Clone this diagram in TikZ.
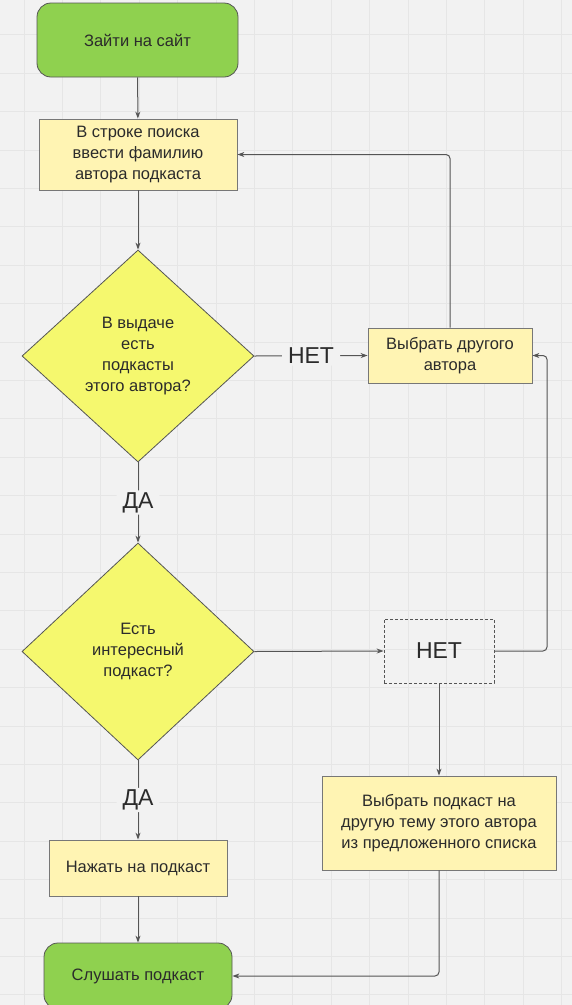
\documentclass[tikz,border=0pt]{standalone}
\usepackage{fontspec}
\setmainfont{Liberation Sans}
\usetikzlibrary{shapes.geometric,arrows.meta}

\definecolor{bgcol}{HTML}{F2F2F2}
\definecolor{gridcol}{HTML}{E6E6E6}
\definecolor{startgreen}{HTML}{8FD14F}
\definecolor{stepyellow}{HTML}{FFF4B3}
\definecolor{askyellow}{HTML}{F5F86E}
\definecolor{linecol}{HTML}{555555}
\definecolor{textcol}{HTML}{2B2B2B}

\begin{document}
\begin{tikzpicture}[x=1pt,y=-1pt,
    every node/.style={text=textcol, font=\fontsize{16.5}{21}\selectfont, align=center},
    terminal/.style={draw=linecol, fill=startgreen, rounded corners=14pt, line width=0.8pt},
    stepbox/.style={draw=linecol!80, fill=stepyellow, line width=0.8pt},
    askbox/.style={draw=linecol, fill=askyellow, diamond, inner sep=0pt, line width=0.8pt},
    ghostbox/.style={draw=linecol, dash pattern=on 3pt off 2pt, line width=0.8pt},
    flow/.style={draw=linecol, line width=1pt, rounded corners=4pt, -{Stealth[length=7pt,width=5pt]}},
    answer/.style={fill=bgcol, inner xsep=6pt, inner ysep=2pt, font=\fontsize{23}{26}\selectfont}]

    % Fix the page size and draw the grid paper
    \useasboundingbox (0,0) rectangle (572,1005);
    \clip (0,0) rectangle (572,1005);
    \fill[bgcol] (0,0) rectangle (572,1005);
    \foreach \gx in {24,62.4,...,572}
        \draw[gridcol, line width=0.8pt] (\gx,0) -- (\gx,1005);
    \foreach \gy in {-3.6,34.8,...,1005}
        \draw[gridcol, line width=0.8pt] (0,\gy) -- (572,\gy);

    % Start: go to the site
    \node[terminal, minimum width=201pt, minimum height=74pt] (start) at (137.5,40) {Зайти на сайт};

    % Type the author name into the search line
    \node[stepbox, minimum width=198pt, minimum height=71pt] (search) at (138,154.5)
        {В строке поиска\\ввести фамилию\\автора подкаста};

    % First question
    \node[askbox, minimum width=232pt, minimum height=212pt] (hasauthor) at (138,356)
        {В выдаче\\есть\\подкасты\\этого автора?};

    % Pick another author
    \node[stepbox, minimum width=164pt, minimum height=55pt] (otherauthor) at (450,355.5)
        {Выбрать другого\\автора};

    % Second question
    \node[askbox, minimum width=232pt, minimum height=217pt] (hasgood) at (138,651.5)
        {Есть\\интересный\\подкаст?};

    % Dashed answer box
    \node[ghostbox, minimum width=110pt, minimum height=64pt, font=\fontsize{23}{26}\selectfont] (nobox) at (439,651) {НЕТ};

    % Pick another podcast of the same author
    \node[stepbox, minimum width=234pt, minimum height=94pt] (othertopic) at (439,823)
        {Выбрать подкаст на\\другую тему этого автора\\из предложенного списка};

    % Click the podcast
    \node[stepbox, minimum width=178pt, minimum height=56pt] (click) at (138,868) {Нажать на подкаст};

    % End: listen to the podcast
    \node[terminal, minimum width=188pt, minimum height=66pt] (listen) at (138,976) {Слушать подкаст};

    % Rail on the right for the way back
    \coordinate (rail) at (547,0);

    % Draw the connectors
    \draw[flow] (start) -- (search);
    \draw[flow] (search) -- (hasauthor);
    \draw[flow] (hasauthor.east) -- node[answer] {НЕТ} (otherauthor.west);
    \draw[flow] (otherauthor.north) |- (search.east);
    \draw[flow] (hasauthor.south) -- node[answer] {ДА} (hasgood.north);
    \draw[flow] (hasgood.east) -- (nobox.west);
    \draw[flow] (nobox.east) -- (nobox.east -| rail) |- (otherauthor.east);
    \draw[flow] (nobox.south) -- (othertopic.north);
    \draw[flow] (hasgood.south) -- node[answer] {ДА} (click.north);
    \draw[flow] (click) -- (listen);
    \draw[flow] (othertopic.south) |- (listen.east);

\end{tikzpicture}
\end{document}
